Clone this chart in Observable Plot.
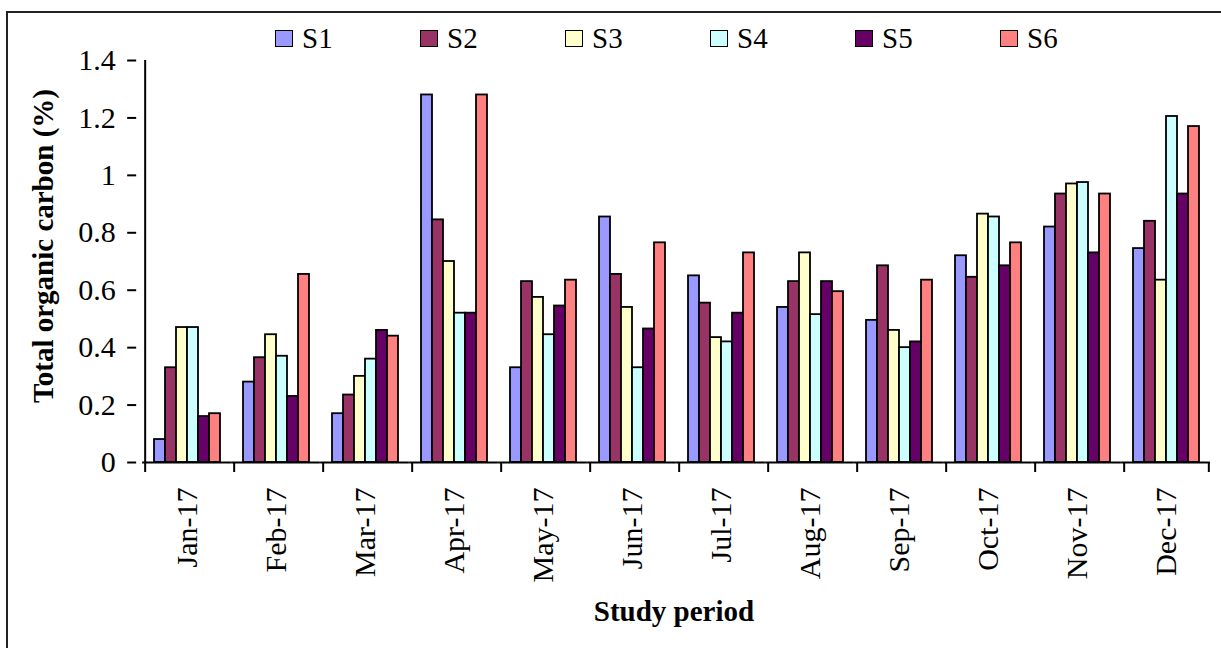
<!DOCTYPE html>
<html>
<head>
<meta charset="utf-8">
<script src="https://cdn.jsdelivr.net/npm/d3@7"></script>
<script src="https://cdn.jsdelivr.net/npm/@observablehq/plot@0.6"></script>
<style>
  html, body { margin: 0; padding: 0; background: white; overflow: hidden; }
  body { width: 1221px; height: 648px; position: relative; font-family: "Liberation Serif", "Times New Roman", serif; }
  #frame { position: absolute; left: 6px; top: 11px; width: 1300px; height: 700px; border-left: 2px solid #222; border-top: 2px solid #222; }
  #legend { position: relative; height: 48px; }
  .item { position: absolute; top: 0; height: 48px; }
  .sw { position: absolute; left: 0; top: 30px; width: 18px; height: 17px; box-sizing: border-box; border: 1.6px solid #000; }
  .lab { position: absolute; left: 27px; top: 24px; font-size: 29px; line-height: 29px; white-space: nowrap; color: #000; }
  #xlabel { position: absolute; left: 674px; top: 597px; transform: translateX(-50%); font-size: 29px; line-height: 29px; font-weight: bold; white-space: nowrap; }
  #ylabel { position: absolute; left: 43px; top: 246px; transform: translate(-50%, -50%) rotate(-90deg); font-size: 29px; line-height: 29px; font-weight: bold; white-space: nowrap; }
  #chart svg { overflow: visible; }
</style>
</head>
<body>
<div id="frame"></div>
<div id="legend"></div>
<div id="chart"></div>
<div id="xlabel">Study period</div>
<div id="ylabel">Total organic carbon (%)</div>
<script>
const months = ["Jan-17","Feb-17","Mar-17","Apr-17","May-17","Jun-17","Jul-17","Aug-17","Sep-17","Oct-17","Nov-17","Dec-17"];
const series = ["S1","S2","S3","S4","S5","S6"];
const colors = ["#9999FF","#993366","#FFFFCC","#CCFFFF","#660066","#FF8080"];
const s1 = [0.08, 0.28, 0.17, 1.28, 0.33, 0.855, 0.65, 0.54, 0.495, 0.72, 0.82, 0.745];
const s2 = [0.33, 0.365, 0.235, 0.845, 0.63, 0.655, 0.555, 0.63, 0.685, 0.645, 0.935, 0.84];
const s3 = [0.47, 0.445, 0.30, 0.70, 0.575, 0.54, 0.435, 0.73, 0.46, 0.865, 0.97, 0.635];
const s4 = [0.47, 0.37, 0.36, 0.52, 0.445, 0.33, 0.42, 0.515, 0.40, 0.855, 0.975, 1.205];
const s5 = [0.16, 0.23, 0.46, 0.52, 0.545, 0.465, 0.52, 0.63, 0.42, 0.685, 0.73, 0.935];
const s6 = [0.17, 0.655, 0.44, 1.28, 0.635, 0.765, 0.73, 0.595, 0.635, 0.765, 0.935, 1.17];
const yTicks = [0, 0.2, 0.4, 0.6, 0.8, 1, 1.2, 1.4];
const yTickLabels = ["0", "0.2", "0.4", "0.6", "0.8", "1", "1.2", "1.4"];

const values = [s1, s2, s3, s4, s5, s6];
const table = months.flatMap((m, i) => series.map((s, j) => ({month: m, series: s, value: values[j][i]})));

// legend
const legend = document.getElementById("legend");
series.forEach((s, i) => {
  const it = document.createElement("div");
  it.className = "item";
  it.style.left = (275 + 145 * i) + "px";
  const sw = document.createElement("div");
  sw.className = "sw";
  sw.style.background = colors[i];
  const lab = document.createElement("div");
  lab.className = "lab";
  lab.textContent = s;
  it.appendChild(sw); it.appendChild(lab);
  legend.appendChild(it);
});

const W = 1221, H = 547, ml = 142, mr = 11, mt = 12, mb = 133;
const innerW = W - ml - mr;
const pI = 0.2, pO = 0.1;
const step = innerW / (months.length - pI + 2 * pO);
const bandW = step * (1 - pI);
const gap = step * pI;
const barW = bandW / series.length;
const edge = barW / 2 + gap / 2;
const pxPerUnit = (H - mt - mb) / 1.4;
const tickLen = 10 / pxPerUnit;

const chart = Plot.plot({
  width: W, height: H,
  marginLeft: ml, marginRight: mr, marginTop: mt, marginBottom: mb,
  style: {fontFamily: "Liberation Serif", fontSize: "30px", background: "transparent", color: "black", overflow: "visible"},
  fx: {domain: months, paddingInner: pI, paddingOuter: pO, label: null},
  x: {domain: series, padding: 0, axis: null},
  y: {domain: [0, 1.4]},
  color: {domain: series, range: colors},
  marks: [
    Plot.barY(table, {fx: "month", x: "series", y: "value", fill: "series", stroke: "black", strokeWidth: 1.8}),
    Plot.ruleY([0], {insetLeft: -gap / 2, insetRight: -gap / 2, stroke: "black", strokeWidth: 2}),
    Plot.ruleX(months, {fx: d => d, x: () => series[0], dx: -edge, y1: 0, y2: -tickLen, stroke: "black", strokeWidth: 2}),
    Plot.ruleX([months[months.length - 1]], {fx: d => d, x: () => series[series.length - 1], dx: edge, y1: 0, y2: -tickLen, stroke: "black", strokeWidth: 2}),
    Plot.ruleX([months[0]], {fx: d => d, x: () => series[0], dx: -edge, y1: 0, y2: 1.4, stroke: "black", strokeWidth: 2}),
    Plot.axisY({ticks: yTicks, tickFormat: (d) => yTickLabels[yTicks.indexOf(d)], tickSize: 9, tickPadding: 12, dx: -edge, label: null, fontSize: 30, strokeWidth: 2}),
    Plot.axisFx({anchor: "bottom", tickSize: 0, tickRotate: -90, tickPadding: 25, label: null, fontSize: 30})
  ]
});
document.getElementById("chart").appendChild(chart);
</script>
</body>
</html>
